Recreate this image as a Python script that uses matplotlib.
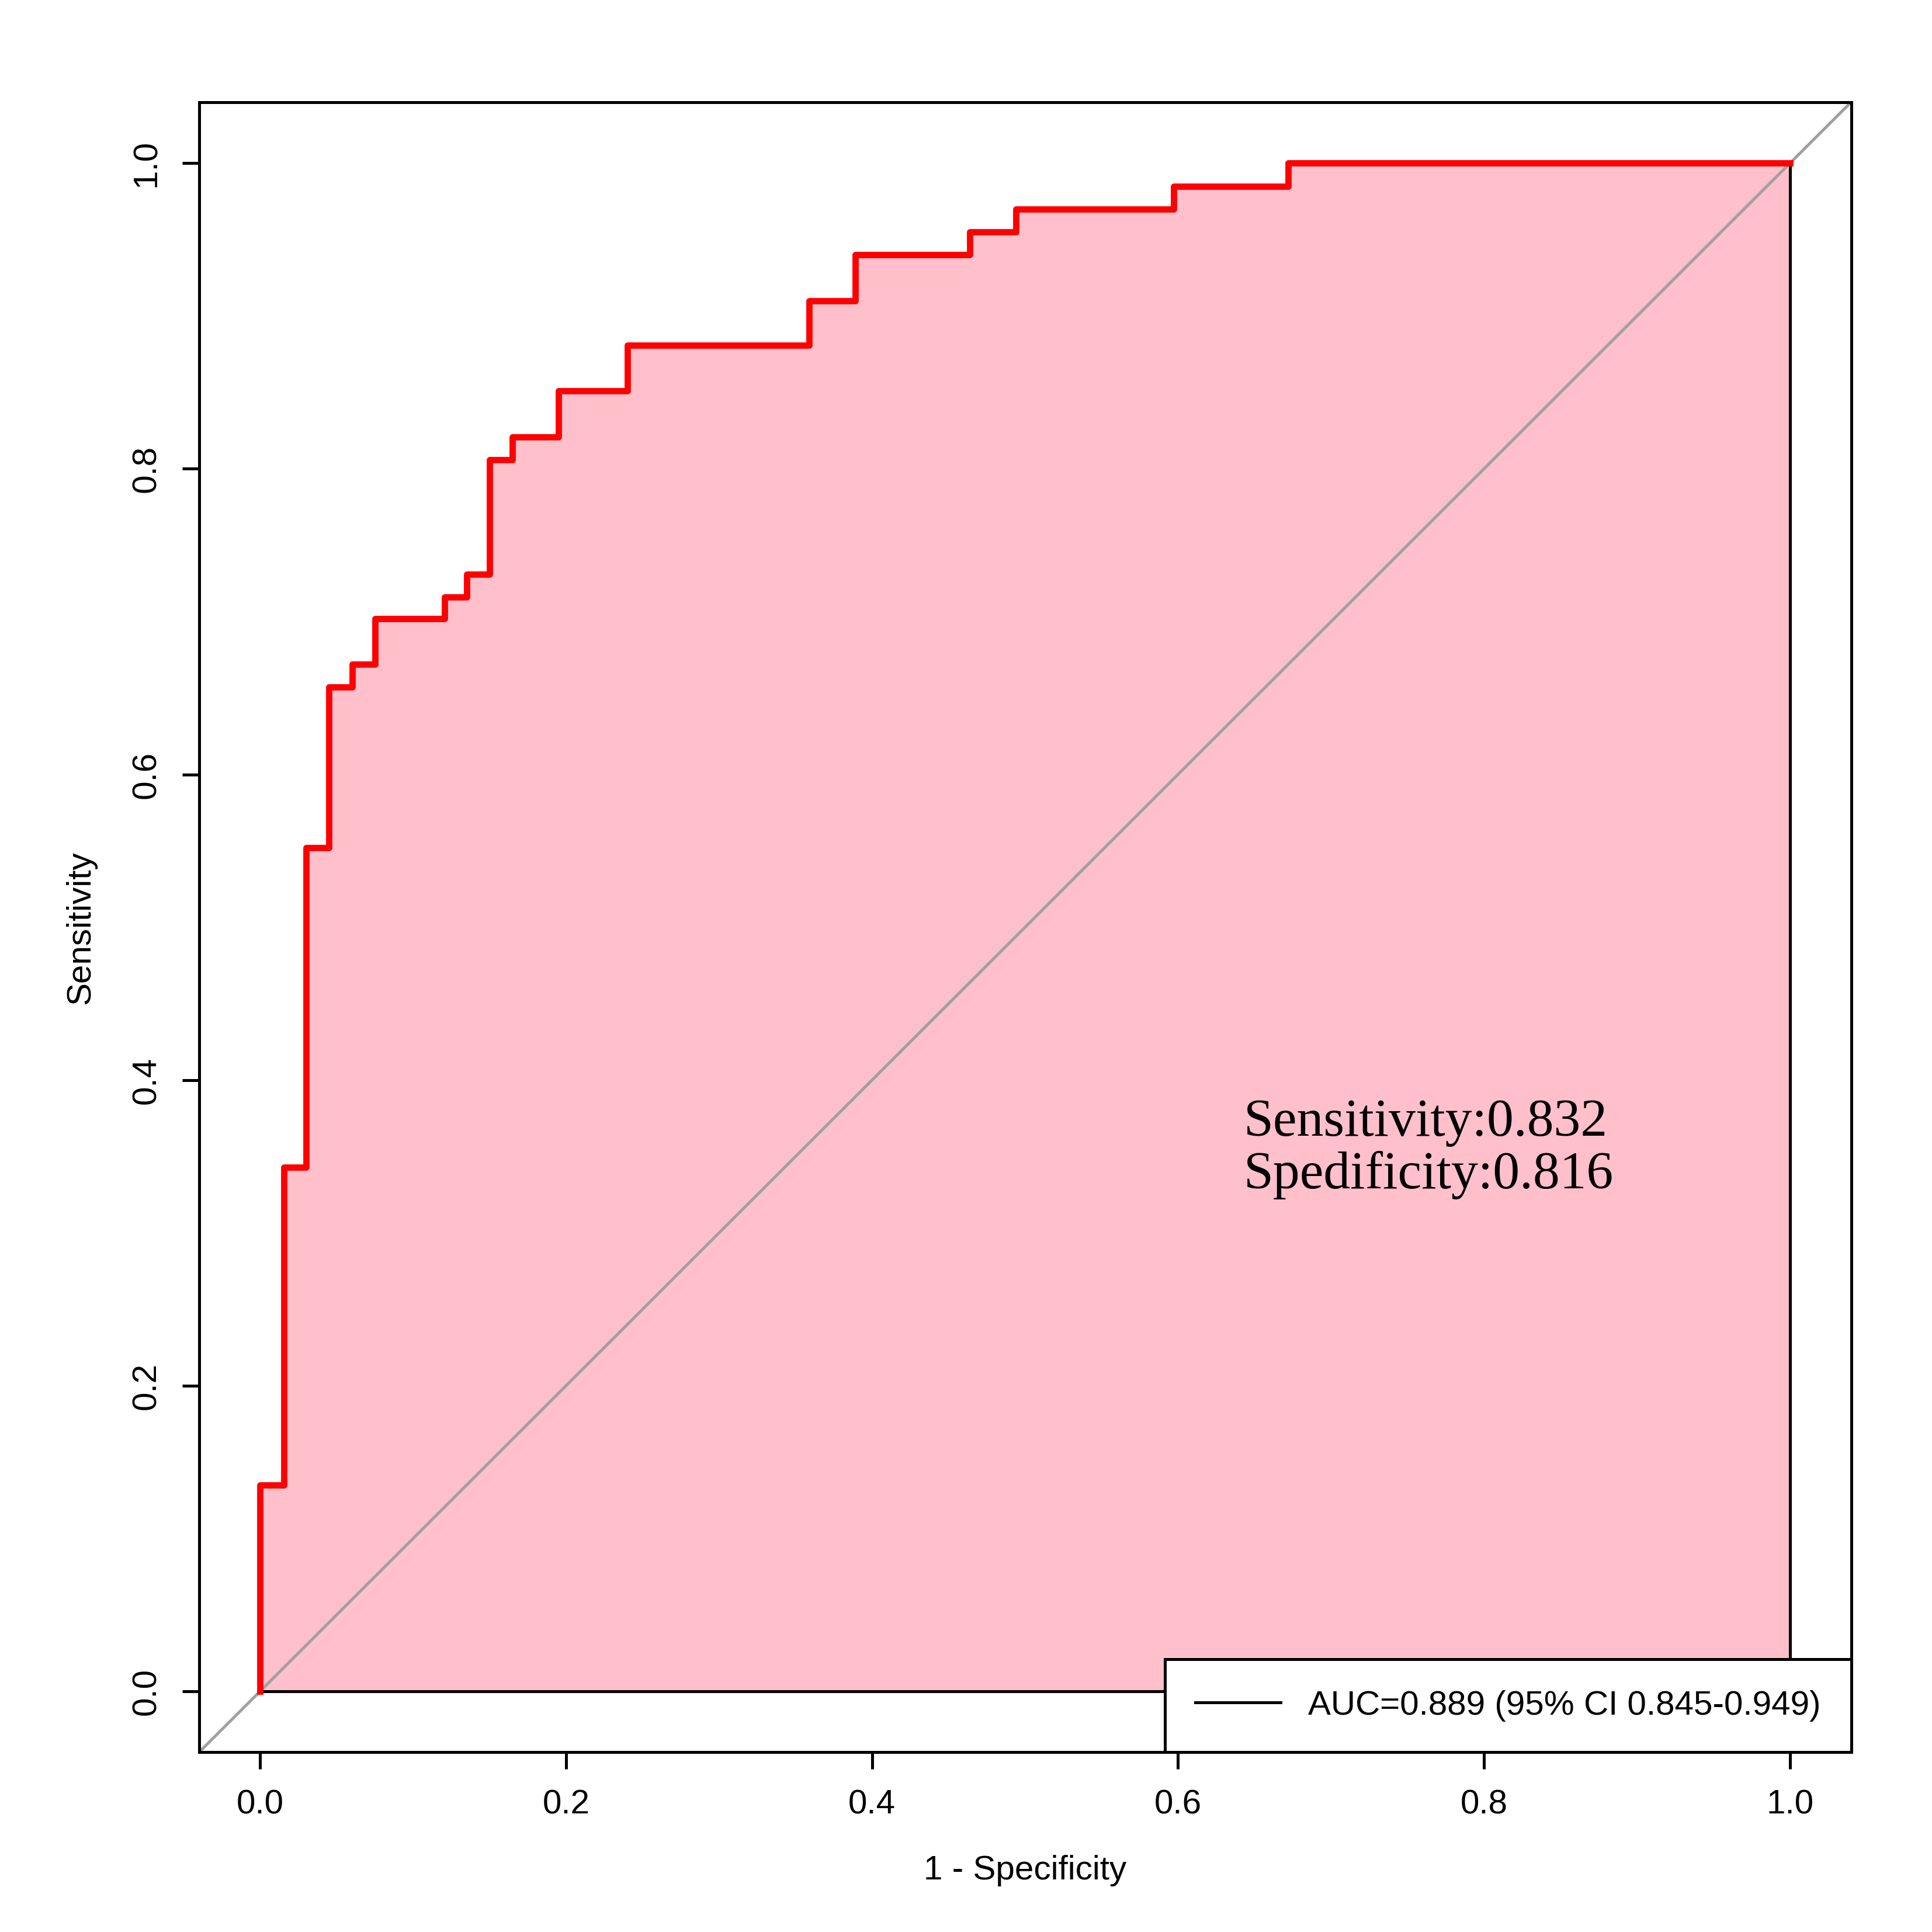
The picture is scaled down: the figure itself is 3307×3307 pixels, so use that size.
import matplotlib
matplotlib.use("Agg")
import matplotlib.pyplot as plt

# step ROC points (1 - specificity, sensitivity)
fpr = [0.0, 0.0, 0.0155, 0.0155, 0.030, 0.030, 0.045, 0.045, 0.060, 0.060,
       0.075, 0.075, 0.1206, 0.1206, 0.135, 0.135, 0.150, 0.150, 0.165, 0.165,
       0.195, 0.195, 0.240, 0.240, 0.359, 0.359, 0.389, 0.389, 0.464, 0.464,
       0.494, 0.494, 0.597, 0.597, 0.672, 0.672, 1.0]
tpr = [0.0, 0.135, 0.135, 0.343, 0.343, 0.552, 0.552, 0.657, 0.657, 0.672,
       0.672, 0.702, 0.702, 0.716, 0.716, 0.731, 0.731, 0.806, 0.806, 0.821,
       0.821, 0.851, 0.851, 0.881, 0.881, 0.910, 0.910, 0.940, 0.940, 0.955,
       0.955, 0.970, 0.970, 0.985, 0.985, 1.0, 1.0]
ticks = [0.0, 0.2, 0.4, 0.6, 0.8, 1.0]
auc_label = "AUC=0.889 (95% CI 0.845-0.949)"
note = "Sensitivity:0.832\nSpedificity:0.816"

plt.rcParams['font.family'] = ['Liberation Sans', 'DejaVu Sans']
fig = plt.figure(figsize=(11.025, 11.025), dpi=300)
ax = fig.add_axes([0.103, 0.093, 0.855, 0.854])

# filled area under curve
poly_x = fpr + [1.0, 0.0]
poly_y = tpr + [0.0, 0.0]
ax.fill(poly_x, poly_y, facecolor='pink', edgecolor='black', linewidth=1.2, zorder=1)
ax.plot([-0.1, 1.1], [-0.1, 1.1], color='#a0a0a0', linewidth=1.2, zorder=2)
ax.plot(fpr, tpr, color='red', linewidth=2.6, zorder=3)

ax.set_xlim(-0.04, 1.04)
ax.set_ylim(-0.04, 1.04)
ax.set_xticks(ticks)
ax.set_yticks(ticks)
ax.set_xticklabels([f"{t:.1f}" for t in ticks], fontsize=14)
ax.set_yticklabels([f"{t:.1f}" for t in ticks], fontsize=14, rotation=90, va='center')
ax.tick_params(length=7, width=1.2, pad=8)
for s in ax.spines.values():
    s.set_linewidth(1.2)
ax.set_xlabel("1 - Specificity", fontsize=14, labelpad=14)
ax.set_ylabel("Sensitivity", fontsize=14, labelpad=14)

ax.text(0.643, 0.355, note, fontsize=22, family=['Liberation Serif'],
        va='center', ha='left', linespacing=1.1)

line, = ax.plot([], [], color='black', linewidth=1.2)
leg = ax.legend([line], [auc_label], loc='lower right', fontsize=14,
                fancybox=False, framealpha=1, edgecolor='black',
                borderaxespad=0, handlelength=2.5, borderpad=0.9)
leg.get_frame().set_linewidth(1.2)

fig.savefig("out.png", dpi=300)
